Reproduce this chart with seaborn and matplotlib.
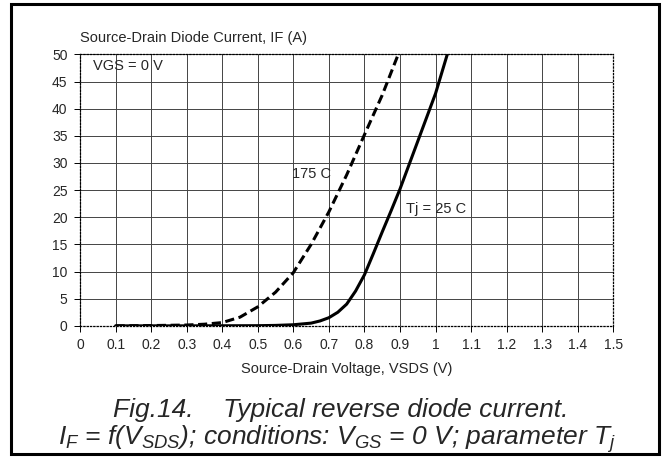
import seaborn as sns
import matplotlib.pyplot as plt
import pandas as pd
from matplotlib.patches import Rectangle

# values
v_175 = [0.1, 0.2, 0.3, 0.35, 0.4, 0.45, 0.5, 0.55, 0.6, 0.65, 0.7, 0.75, 0.8, 0.85, 0.895]
i_175 = [0.0, 0.05, 0.15, 0.3, 0.6, 1.6, 3.5, 6.2, 9.8, 15.0, 21.0, 27.8, 35.2, 42.5, 50.0]

v_25 = [0.1, 0.3, 0.5, 0.55, 0.6, 0.65, 0.675, 0.7, 0.725, 0.75, 0.775, 0.8,
        0.825, 0.85, 0.875, 0.9, 0.95, 1.0, 1.033]
i_25 = [0.0, 0.0, 0.03, 0.08, 0.2, 0.5, 0.9, 1.5, 2.5, 4.0, 6.4, 9.4,
        13.3, 17.3, 21.2, 25.2, 34.0, 42.8, 50.0]

x_ticks = [0, 0.1, 0.2, 0.3, 0.4, 0.5, 0.6, 0.7, 0.8, 0.9, 1, 1.1, 1.2, 1.3, 1.4, 1.5]
x_labels = ['0', '0.1', '0.2', '0.3', '0.4', '0.5', '0.6', '0.7', '0.8', '0.9',
            '1', '1.1', '1.2', '1.3', '1.4', '1.5']
y_ticks = [0, 5, 10, 15, 20, 25, 30, 35, 40, 45, 50]

df175 = pd.DataFrame({'V': v_175, 'I': i_175})
df25 = pd.DataFrame({'V': v_25, 'I': i_25})

sns.set_theme(style='white')
plt.rcParams['font.family'] = ['Liberation Sans', 'DejaVu Sans']
plt.rcParams['mathtext.fontset'] = 'custom'
plt.rcParams['mathtext.rm'] = 'Liberation Sans:italic'
plt.rcParams['mathtext.it'] = 'Liberation Sans:italic'

fig = plt.figure(figsize=(6.67, 4.57), dpi=100)
ax = fig.add_axes([0.12, 0.287, 0.7995, 0.594])

sns.lineplot(data=df175, x='V', y='I', ax=ax, color='black', linewidth=2.2,
             linestyle=(0, (3, 1.5)))
sns.lineplot(data=df25, x='V', y='I', ax=ax, color='black', linewidth=2.2)

ax.set_xlim(0, 1.5)
ax.set_ylim(0, 50)
ax.set_xticks(x_ticks)
ax.set_xticklabels(x_labels)
ax.set_yticks(y_ticks)
ax.grid(True, color='#444444', linewidth=0.7)
ax.set_axisbelow(True)
for s in ax.spines.values():
    s.set_linestyle(':')
    s.set_linewidth(0.9)
    s.set_color('black')
ax.tick_params(axis='both', labelsize=10, length=4, width=0.7, color='black',
               direction='out', bottom=True, left=True, pad=5)
ax.set_xlabel('Source-Drain Voltage, VSDS (V)', fontsize=10.5, labelpad=7)
ax.set_ylabel('')
ax.text(0.0, 1.035, 'Source-Drain Diode Current, IF (A)', transform=ax.transAxes,
        fontsize=10.5, ha='left', va='bottom')

ax.text(0.037, 47.8, 'VGS = 0 V', fontsize=10.5, va='center')
ax.text(0.595, 28, '175 C', fontsize=10.5, va='center')
ax.text(0.917, 21.5, 'Tj = 25 C', fontsize=10.5, va='center')

fig.text(0.511, 0.088, 'Fig.14.    Typical reverse diode current.', ha='center',
         va='baseline', fontsize=19, style='italic')
fig.text(0.506, 0.026, r'$I_F$ = f($V_{SDS}$); conditions: $V_{GS}$ = 0 V; parameter $T_j$',
         ha='center', va='baseline', fontsize=19, style='italic')

fig.add_artist(Rectangle((0.017, 0.007), 0.971, 0.984, transform=fig.transFigure,
                         fill=False, edgecolor='black', linewidth=2.2))

plt.savefig('out.png', dpi=100)
